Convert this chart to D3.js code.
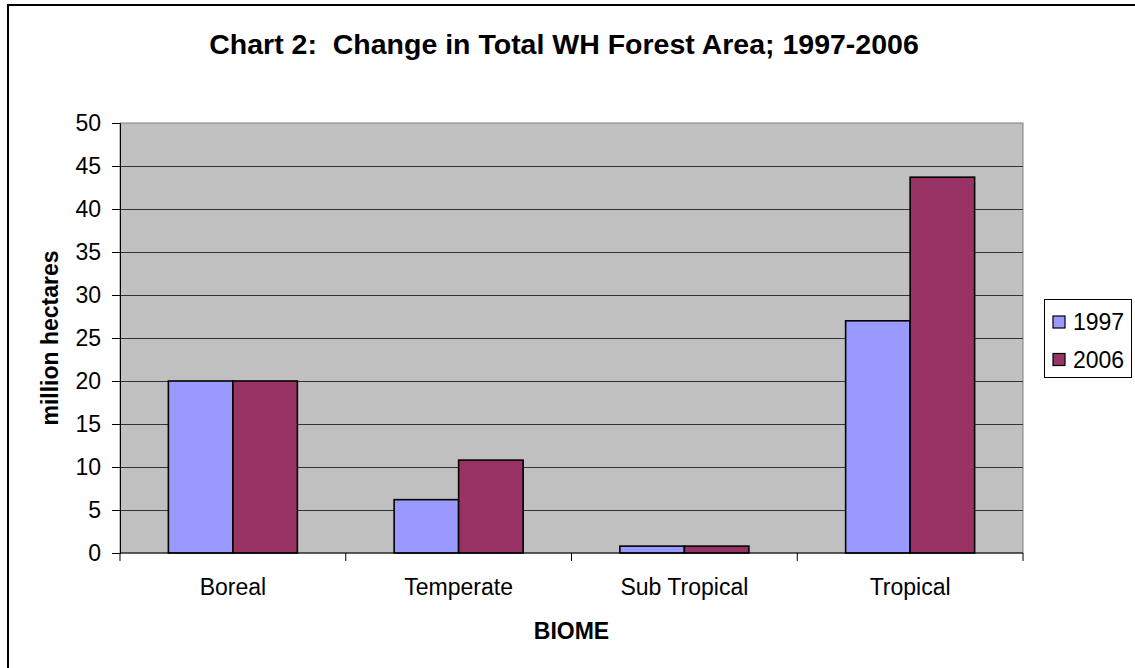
<!DOCTYPE html>
<html>
<head>
<meta charset="utf-8">
<script src="https://cdn.jsdelivr.net/npm/d3@7"></script>
<style>
  html, body { margin: 0; padding: 0; background: #fff; }
  svg { display: block; font-family: "Liberation Sans", Arial, sans-serif; }
</style>
</head>
<body>
<div id="chart"></div>
<script>
// chart data
const biomes = ["Boreal", "Temperate", "Sub Tropical", "Tropical"];
const years = ["1997", "2006"];
const values1997 = [20, 6.2, 0.8, 27];
const values2006 = [20, 10.8, 0.8, 43.7];
const yTicks = [0, 5, 10, 15, 20, 25, 30, 35, 40, 45, 50];
const colors = ["#9999FF", "#993366"];

const width = 1135, height = 668;
const plot = { left: 120, right: 1023, top: 123, bottom: 553 };
const labelSize = 23;

const svg = d3.select("#chart").append("svg")
    .attr("width", width)
    .attr("height", height);

// outer chart border (runs off the right and bottom edges)
svg.append("rect")
    .attr("x", 8).attr("y", 5)
    .attr("width", width).attr("height", height)
    .attr("fill", "none")
    .attr("stroke", "#000")
    .attr("stroke-width", 2);

const x0 = d3.scaleBand().domain(biomes).range([plot.left, plot.right]);
const barW = x0.bandwidth() / 3.5;
const x1 = d3.scaleBand().domain(years)
    .range([0.75 * barW, 2.75 * barW]);
const y = d3.scaleLinear().domain([0, 50]).range([plot.bottom, plot.top]);

// plot background
svg.append("rect")
    .attr("x", plot.left).attr("y", plot.top)
    .attr("width", plot.right - plot.left)
    .attr("height", plot.bottom - plot.top)
    .attr("fill", "#C0C0C0")
    .attr("stroke", "#808080")
    .attr("stroke-width", 1);

// gridlines
svg.append("g")
    .selectAll("line")
    .data(yTicks.filter(d => d > 0 && d < 50))
    .enter()
    .append("line")
    .attr("x1", plot.left).attr("x2", plot.right)
    .attr("y1", d => Math.round(y(d)) + 0.5)
    .attr("y2", d => Math.round(y(d)) + 0.5)
    .attr("stroke", "#333")
    .attr("stroke-width", 1);

// bars
const rows = biomes.map((b, i) => ({ biome: b, vals: [values1997[i], values2006[i]] }));
svg.append("g")
    .selectAll("g")
    .data(rows)
    .enter()
    .append("g")
    .attr("transform", d => `translate(${x0(d.biome)},0)`)
    .selectAll("rect")
    .data(d => d.vals.map((v, j) => ({ year: years[j], v: v, c: colors[j] })))
    .enter()
    .append("rect")
    .attr("x", d => x1(d.year))
    .attr("y", d => y(d.v))
    .attr("width", x1.bandwidth())
    .attr("height", d => y(0) - y(d.v))
    .attr("fill", d => d.c)
    .attr("stroke", "#000")
    .attr("stroke-width", 1.6);

// y axis
const yAxis = svg.append("g")
    .attr("transform", `translate(${plot.left},0)`)
    .call(d3.axisLeft(y).tickValues(yTicks).tickSize(8).tickPadding(11));
yAxis.select(".domain").attr("stroke", "#000");
yAxis.selectAll(".tick line").attr("stroke", "#000");
yAxis.selectAll("text")
    .attr("font-size", labelSize)
    .attr("fill", "#000")
    .attr("font-family", "Liberation Sans, Arial, sans-serif");

// x axis: ticks at category boundaries
const xAxisG = svg.append("g")
    .attr("transform", `translate(0,${plot.bottom})`);
xAxisG.append("line")
    .attr("x1", plot.left).attr("x2", plot.right)
    .attr("y1", 0).attr("y2", 0)
    .attr("stroke", "#000");
xAxisG.selectAll("line.tick")
    .data(biomes.concat(["end"]))
    .enter()
    .append("line")
    .attr("class", "tick")
    .attr("x1", (d, i) => i < biomes.length ? x0(d) : plot.right)
    .attr("x2", (d, i) => i < biomes.length ? x0(d) : plot.right)
    .attr("y1", 0).attr("y2", 8)
    .attr("stroke", "#000");
xAxisG.selectAll("text")
    .data(biomes)
    .enter()
    .append("text")
    .attr("x", d => x0(d) + x0.bandwidth() / 2)
    .attr("y", 42)
    .attr("text-anchor", "middle")
    .attr("font-size", labelSize)
    .text(d => d);

// title
svg.append("text")
    .attr("x", 564).attr("y", 54)
    .attr("text-anchor", "middle")
    .attr("font-size", 28.5)
    .attr("font-weight", "bold")
    .text("Chart 2:  Change in Total WH Forest Area; 1997-2006")
    .style("white-space", "pre");

// axis titles
svg.append("text")
    .attr("x", (plot.left + plot.right) / 2).attr("y", 639)
    .attr("text-anchor", "middle")
    .attr("font-size", labelSize)
    .attr("font-weight", "bold")
    .text("BIOME");

svg.append("text")
    .attr("transform", `translate(58,${(plot.top + plot.bottom) / 2}) rotate(-90)`)
    .attr("text-anchor", "middle")
    .attr("font-size", labelSize)
    .attr("font-weight", "bold")
    .text("million hectares");

// legend
const legend = svg.append("g");
legend.append("rect")
    .attr("x", 1044.5).attr("y", 299.5)
    .attr("width", 87).attr("height", 78)
    .attr("fill", "#fff")
    .attr("stroke", "#000")
    .attr("stroke-width", 1);
const items = legend.selectAll("g.item")
    .data(years)
    .enter()
    .append("g")
    .attr("transform", (d, i) => `translate(1053,${322 + i * 37.5})`);
items.append("rect")
    .attr("x", 0).attr("y", -6)
    .attr("width", 12).attr("height", 12)
    .attr("fill", (d, i) => colors[i])
    .attr("stroke", "#000")
    .attr("stroke-width", 1.2);
items.append("text")
    .attr("x", 20).attr("y", 8)
    .attr("font-size", labelSize)
    .text(d => d);
</script>
</body>
</html>
